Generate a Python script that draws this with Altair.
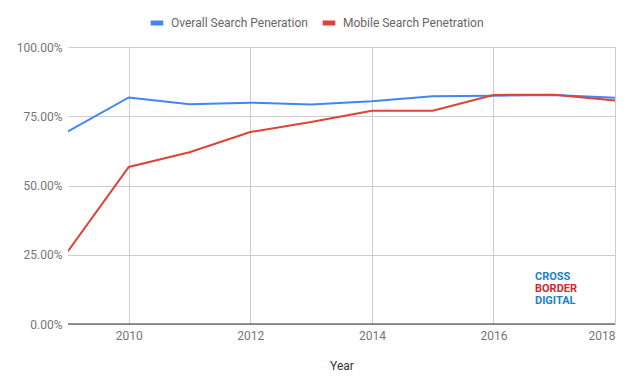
import altair as alt
import pandas as pd

years = [2009, 2010, 2011, 2012, 2013, 2014, 2015, 2016, 2017, 2018]
overall = [0.695, 0.818, 0.793, 0.799, 0.792, 0.804, 0.822, 0.824, 0.827, 0.817]
mobile = [0.263, 0.567, 0.620, 0.693, 0.729, 0.770, 0.770, 0.827, 0.828, 0.807]
series_names = ["Overall Search Peneration", "Mobile Search Penetration"]
colors = ["#4285F4", "#DB4437"]

rows = []
for y, o, m in zip(years, overall, mobile):
    rows.append({"Year": y, "series": series_names[0], "value": o})
    rows.append({"Year": y, "series": series_names[1], "value": m})
df = pd.DataFrame(rows)

font = "Roboto"

lines = alt.Chart(df).mark_line(strokeWidth=2, clip=True).encode(
    x=alt.X("Year:Q", scale=alt.Scale(domain=[2009, 2018], nice=False, zero=False),
            axis=alt.Axis(values=[2010, 2012, 2014, 2016, 2018], format="d", title="Year",
                          labelFont=font, labelFontSize=12, labelColor="#757575",
                          titleFont=font, titleFontSize=12, titleFontWeight="normal",
                          titleColor="#333333", titlePadding=19, labelPadding=6,
                          domain=False, ticks=False, grid=True, gridColor="#cccccc")),
    y=alt.Y("value:Q", scale=alt.Scale(domain=[0, 1], nice=False),
            axis=alt.Axis(values=[0, 0.25, 0.5, 0.75, 1.0], format=".2%", title=None,
                          labelFont=font, labelFontSize=12, labelColor="#757575",
                          labelPadding=6, domain=False, ticks=False, grid=True,
                          gridColor="#cccccc")),
    color=alt.Color("series:N", sort=series_names,
                    scale=alt.Scale(domain=series_names, range=colors),
                    legend=alt.Legend(title=None, orient="none", direction="horizontal",
                                      legendX=80, legendY=-33,
                                      symbolType="stroke", symbolSize=160,
                                      symbolStrokeWidth=5,
                                      labelFont=font, labelFontSize=12,
                                      labelColor="#666666", columnPadding=4,
                                      labelOffset=5)),
)

baseline = alt.Chart(pd.DataFrame({"v": [0]})).mark_rule(color="#333333", strokeWidth=1).encode(
    y=alt.Y("v:Q", scale=alt.Scale(domain=[0, 1])),
    x=alt.value(0), x2=alt.value(547),
)

logo_words = pd.DataFrame({
    "word": ["CROSS", "BORDER", "DIGITAL"],
    "px": [467, 467, 467],
    "py": [230, 241.5, 254],
    "col": ["#1a7fd0", "#d0282e", "#1a7fd0"],
})
logo = alt.Chart(logo_words).mark_text(font=font, fontWeight="bold", fontSize=11,
                                       align="left", baseline="middle").encode(
    x=alt.X("px:Q", scale=None), y=alt.Y("py:Q", scale=None),
    text="word:N", color=alt.Color("col:N", scale=None),
)

chart = alt.layer(lines, baseline, logo).properties(
    width=547, height=277,
    padding={"left": 60, "top": 39, "right": 13, "bottom": 49},
    autosize=alt.AutoSizeParams(type="none"),
).configure_view(stroke=None).configure_axis(labelFont=font)

chart.save("out.html", embed_options={"renderer": "svg", "actions": False})
